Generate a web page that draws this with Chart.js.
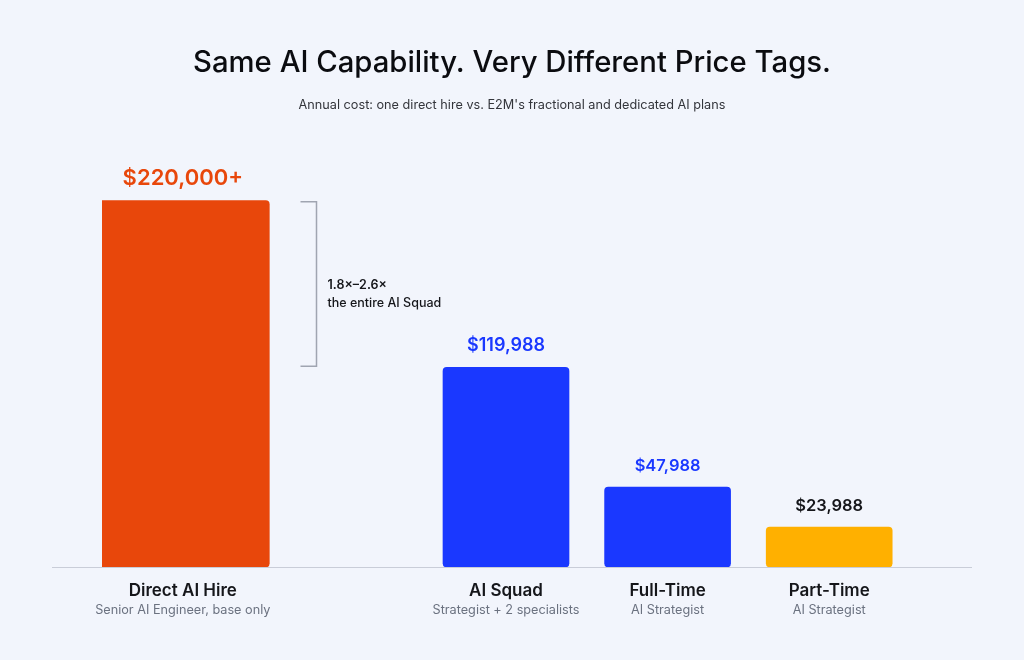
<!DOCTYPE html>
<html>
<head>
<meta charset="utf-8">
<title>Same AI Capability. Very Different Price Tags.</title>
<script src="https://cdn.jsdelivr.net/npm/chart.js@4/dist/chart.umd.min.js"></script>
<style>
  html, body { margin: 0; padding: 0; background: #f2f5fc; }
  #wrap { width: 1024px; height: 660px; }
</style>
</head>
<body>
<div id="wrap"><canvas id="costChart"></canvas></div>
<script>
// categories (the empty one is just a gap between the hire and the plans)
var categories = ['Direct AI Hire', '', 'AI Squad', 'Full-Time', 'Part-Time'];
var subLabels = ['Senior AI Engineer, base only', '', 'Strategist + 2 specialists', 'AI Strategist', 'AI Strategist'];
var directHireCost = [220000, null, null, null, null];
var planCost = [null, null, 119988, 47988, 23988];
var valueLabels = ['$220,000+', '', '$119,988', '$47,988', '$23,988'];
var bracketText = ['1.8\u00d7\u20132.6\u00d7', 'the entire AI Squad'];

var ORANGE = '#e8470b';
var BLUE = '#1a38ff';
var AMBER = '#ffb000';

// value labels above bars, category labels below, baseline, bracket
var decorPlugin = {
    id: 'decor',
    afterDatasetsDraw: function(chart) {
        var ctx = chart.ctx;
        var x = chart.scales.x, y = chart.scales.y;
        var zeroY = y.getPixelForValue(0);

        ctx.save();
        // baseline
        ctx.strokeStyle = '#c9cdd8';
        ctx.lineWidth = 1;
        ctx.beginPath();
        ctx.moveTo(52, zeroY + 0.5);
        ctx.lineTo(972, zeroY + 0.5);
        ctx.stroke();

        var labelColors = [ORANGE, null, BLUE, BLUE, '#15161a'];
        var labelSizes = [22, 0, 18, 16.5, 16.5];
        ctx.textAlign = 'center';
        ctx.textBaseline = 'alphabetic';
        categories.forEach(function(cat, i) {
            if (!cat) return;
            var cx = x.getPixelForValue(i);
            var v = directHireCost[i] != null ? directHireCost[i] : planCost[i];
            var top = y.getPixelForValue(v);
            ctx.fillStyle = labelColors[i];
            ctx.font = '600 ' + labelSizes[i] + 'px Inter';
            ctx.fillText(valueLabels[i], cx, top - 16);

            ctx.fillStyle = '#15161a';
            ctx.font = '600 17px Inter';
            ctx.fillText(cat, cx, zeroY + 29);
            ctx.fillStyle = '#6b7280';
            ctx.font = '400 12.7px Inter';
            ctx.fillText(subLabels[i], cx, zeroY + 47);
        });

        // bracket from the hire's bar top down to the squad's bar top
        var hireBar = chart.getDatasetMeta(0).data[0];
        var topY = y.getPixelForValue(directHireCost[0]);
        var botY = y.getPixelForValue(planCost[2]);
        var bx = Math.round(hireBar.x + hireBar.width / 2 + 47) + 0.5;
        ctx.strokeStyle = '#a0a5b1';
        ctx.lineWidth = 1.5;
        ctx.beginPath();
        ctx.moveTo(bx - 16, topY + 1);
        ctx.lineTo(bx, topY + 1);
        ctx.lineTo(bx, botY - 1);
        ctx.lineTo(bx - 16, botY - 1);
        ctx.stroke();

        var mid = (topY + botY) / 2;
        ctx.textAlign = 'left';
        ctx.fillStyle = '#15161a';
        ctx.font = '600 12.5px Inter';
        ctx.fillText(bracketText[0], bx + 11, mid + 5);
        ctx.font = '500 12.5px Inter';
        ctx.fillText(bracketText[1], bx + 11, mid + 23);
        ctx.restore();
    }
};

// invisible axes just to reserve side space, so the titles stay centred on the page
function hiddenSide(width) {
    return {
        display: true,
        ticks: { display: false },
        grid: { display: false },
        border: { display: false },
        afterFit: function(axis) { axis.width = width; }
    };
}

var yLeft = hiddenSide(102);
yLeft.position = 'left';
yLeft.min = 0;
yLeft.max = 240000;
var yRight = hiddenSide(114);
yRight.position = 'right';

var ctx = document.getElementById('costChart').getContext('2d');
var costChart = new Chart(ctx, {
    type: 'bar',
    data: {
        labels: categories,
        datasets: [{
            label: 'Direct hire',
            data: directHireCost,
            backgroundColor: ORANGE,
            barThickness: 173,
            borderRadius: 4,
            borderSkipped: false
        }, {
            label: 'E2M plans',
            data: planCost,
            backgroundColor: [BLUE, BLUE, BLUE, BLUE, AMBER],
            barThickness: 126,
            borderRadius: 4,
            borderSkipped: false
        }]
    },
    options: {
        responsive: true,
        maintainAspectRatio: false,
        animation: false,
        layout: {
            padding: { left: 0, right: 0, top: 0, bottom: 93 }
        },
        datasets: { bar: { grouped: false } },
        scales: {
            x: { display: false, offset: true },
            y: yLeft,
            yRight: yRight
        },
        plugins: {
            legend: { display: false },
            tooltip: { enabled: false },
            title: {
                display: true,
                text: 'Same AI Capability. Very Different Price Tags.',
                color: '#0b0c10',
                font: { family: 'Inter', size: 29.3, weight: '500' },
                padding: { top: 46, bottom: 16 }
            },
            subtitle: {
                display: true,
                text: "Annual cost: one direct hire vs. E2M's fractional and dedicated AI plans",
                color: '#33353b',
                font: { family: 'Inter', size: 12.7, weight: '400' },
                padding: { top: 0, bottom: 55 }
            }
        }
    },
    plugins: [decorPlugin]
});
</script>
</body>
</html>
